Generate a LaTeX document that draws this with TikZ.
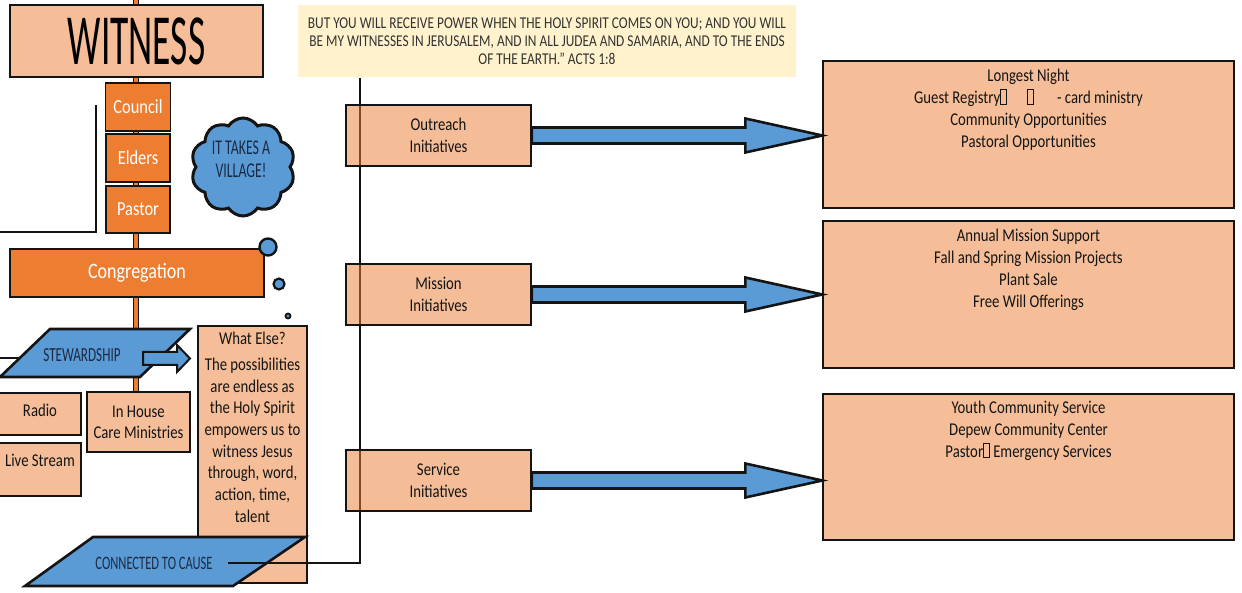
\documentclass[tikz,border=0pt]{standalone}
\usepackage{fontspec}
\setmainfont{Carlito}[FakeStretch=0.82]
\newfontfamily\witfont{Carlito}[FakeStretch=0.52]
\newfontfamily\quotefont{Carlito}[FakeStretch=0.81]
\newfontfamily\capfont{Carlito}[FakeStretch=0.66]
\usetikzlibrary{shapes.symbols,calc,backgrounds}
\definecolor{orng}{HTML}{ED7D31}
\definecolor{peach}{HTML}{F5BE98}
\definecolor{blu}{HTML}{5B9BD5}
\definecolor{cream}{HTML}{FFF2CC}
\definecolor{ink}{HTML}{141414}
\definecolor{navy}{HTML}{1C2A44}
\definecolor{qtext}{HTML}{333333}
\newcommand\tofu{{\setlength{\fboxsep}{0pt}\setlength{\fboxrule}{0.7pt}\fbox{\rule{0pt}{0.75em}\hspace{0.3em}}}}
\newcommand\blockarrow[2]{%
  \path[blueshape] ($(#1.east)+(0,-8)$) -- ($(#1.east -| #2.west)+(-77,-8)$)
    -- ($(#1.east -| #2.west)+(-77,-17)$) -- (#1.east -| #2.west)
    -- ($(#1.east -| #2.west)+(-77,17)$) -- ($(#1.east -| #2.west)+(-77,8)$)
    -- ($(#1.east)+(0,8)$) -- cycle;}
\begin{document}
\begin{tikzpicture}[x=1pt,y=-1pt,
  bx/.style={draw=ink, line width=1.4pt, inner sep=2pt, align=center},
  peachbox/.style={bx, fill=peach},
  glassbox/.style={bx, fill=orng, fill opacity=0.5, text opacity=1},
  orbox/.style={bx, fill=orng, text=white},
  blueshape/.style={fill=blu, draw=ink, line width=2.6pt, line join=miter},
  body/.style={font=\fontsize{18}{21.7}\selectfont, text=ink},
  capstext/.style={font=\capfont\fontsize{19}{22}\selectfont, text=navy, inner sep=0pt},
  link/.style={draw=ink, line width=2.6pt},
]
\useasboundingbox (0,0) rectangle (1242,593);

% ---------- left column ----------
\node[peachbox, minimum width=253, minimum height=72] (witness) at (136.5,41)
  {\witfont\fontsize{72}{72}\selectfont WITNESS};
\node[orbox, minimum width=65, minimum height=48, font=\fontsize{20}{22}\selectfont] (council) at (138,107) {Council};
\node[orbox, minimum width=64, minimum height=48, font=\fontsize{20}{22}\selectfont] (elders) at (138,158) {Elders};
\node[orbox, minimum width=64, minimum height=47, font=\fontsize{20}{22}\selectfont] (pastor) at (138,209.5) {Pastor};
\node[orbox, minimum width=254, minimum height=48, font=\fontsize{22}{24}\selectfont] (congregation) at (137,273) {Congregation};

\node[cloud, cloud puffs=10, cloud puff arc=115, aspect=1.1, fill=blu, draw=ink, line width=3pt,
      minimum width=104, minimum height=98] (cloud) at (243,167) {};
\node[capstext, align=center, font=\capfont\fontsize{21}{23}\selectfont] (cloudtext) at (241,159) {IT TAKES A\\VILLAGE!};

\node[circle, fill=blu, draw=ink, line width=2.4pt, minimum size=17, inner sep=0pt] (b1) at (268,247) {};
\node[circle, fill=blu, draw=ink, line width=2.2pt, minimum size=11, inner sep=0pt] (b2) at (279,284) {};
\node[circle, fill=blu, draw=ink, line width=1.8pt, minimum size=5, inner sep=0pt] (b3) at (288,316) {};

% stewardship
\coordinate (s1) at (50,329); \coordinate (s2) at (190,329);
\coordinate (s3) at (140,377); \coordinate (s4) at (0,377);
\path[blueshape] (s1) -- (s2) -- (s3) -- (s4) -- cycle;
\node[capstext, font=\capfont\fontsize{20}{22}\selectfont] (stew) at (82,355) {STEWARDSHIP};
\coordinate (stewL) at (20,358); \coordinate (stewFree) at (0,358);
\draw[link] (stewFree) -- (stewL);
\path[blueshape, line width=2pt] (143,352) -- (177,352) -- (177,345) -- (190,358.5) -- (177,372) -- (177,365) -- (143,365) -- cycle;

\node[peachbox, minimum width=86, minimum height=42] (radio) at (38,414) {};
\node[body] at (40,410) {Radio};
\node[peachbox, minimum width=86, minimum height=53] (live) at (38,469.5) {};
\node[body] at (40,460) {Live Stream};
\node[peachbox, minimum width=103, minimum height=60, body] (inhouse) at (138.5,422) {In House\\[-1pt]Care Ministries};

\node[peachbox, minimum width=109, minimum height=257] (whatelse) at (252.5,454.5) {};
\node[body, anchor=north, align=center, inner sep=0pt] (whattext) at (252.5,332)
  {What Else?\\[4pt]The possibilities\\are endless as\\the Holy Spirit\\empowers us to\\witness Jesus\\through, word,\\action, time,\\talent};

% connected to cause
\coordinate (c1) at (93,537); \coordinate (c2) at (305,537);
\coordinate (c3) at (233,586); \coordinate (c4) at (25,586);
\path[blueshape] (c1) -- (c2) -- (c3) -- (c4) -- cycle;
\node[capstext, font=\capfont\fontsize{19}{22}\selectfont, inner xsep=15pt] (cause) at (154,563) {CONNECTED TO CAUSE};

% black bracket line on the left
\coordinate (lt) at (96,105); \coordinate (lc) at (96,232); \coordinate (lf) at (0,232);
\draw[link] (lt) -- (lc) -- (lf);

% ---------- quote ----------
\node[fill=cream, minimum width=498, minimum height=72, inner sep=0pt, align=center,
      font=\quotefont\fontsize{16.5}{18}\selectfont, text=qtext] (quote) at (547,41)
  {BUT YOU WILL RECEIVE POWER WHEN THE HOLY SPIRIT COMES ON YOU; AND YOU WILL\\
   BE MY WITNESSES IN JERUSALEM, AND IN ALL JUDEA AND SAMARIA, AND TO THE ENDS\\
   OF THE EARTH.” ACTS 1:8};

% ---------- initiatives ----------
\node[glassbox, minimum width=185, minimum height=61, body] (outreach) at (438.5,135.5) {Outreach\\Initiatives};
\node[glassbox, minimum width=185, minimum height=61, body] (mission) at (438.5,294.5) {Mission\\Initiatives};
\node[glassbox, minimum width=185, minimum height=61, body] (service) at (438.5,480.5) {Service\\Initiatives};

\node[peachbox, minimum width=411, minimum height=147] (r1) at (1028.5,134.5) {};
\node[peachbox, minimum width=411, minimum height=147] (r2) at (1028.5,294.5) {};
\node[peachbox, minimum width=411, minimum height=146] (r3) at (1028.5,467) {};

\node[body, anchor=north, align=center, inner sep=0pt] at ($(r1.north)+(0,9)$)
  {Longest Night\\Guest Registry\tofu\hspace{1.1em}\tofu\hspace{1.3em}- card ministry\\Community Opportunities\\Pastoral Opportunities};
\node[body, anchor=north, align=center, inner sep=0pt] at ($(r2.north)+(0,9)$)
  {Annual Mission Support\\Fall and Spring Mission Projects\\Plant Sale\\Free Will Offerings};
\node[body, anchor=north, align=center, inner sep=0pt] at ($(r3.north)+(0,8)$)
  {Youth Community Service\\Depew Community Center\\Pastor\tofu\ Emergency Services};

\blockarrow{outreach}{r1}
\blockarrow{mission}{r2}
\blockarrow{service}{r3}

% ---------- background layer: spine and cause line ----------
\coordinate (spTop) at (136,0);
\coordinate (vtop) at (360,78);
\begin{scope}[on background layer]
  \fill[white] (0,0) rectangle (1242,593);
  \draw[line width=6pt, ink] (spTop) -- (inhouse.north -| spTop);
  \draw[line width=3.6pt, orng] (spTop) -- (inhouse.north -| spTop);
  \draw[link] (vtop) -- (vtop |- service.south);
\end{scope}
\draw[link] (cause.east) -| (vtop |- service.south);
\end{tikzpicture}
\end{document}
